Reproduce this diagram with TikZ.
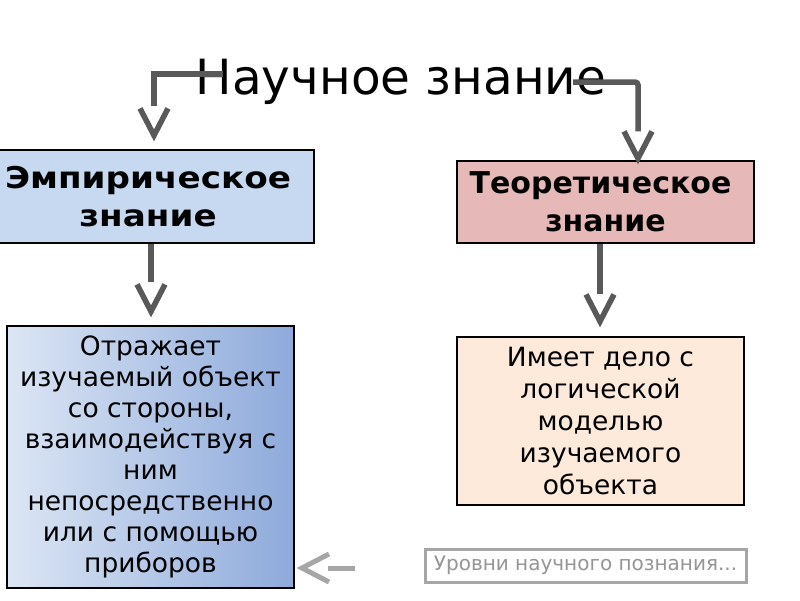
\documentclass[tikz,border=0pt]{standalone}
\usepackage{fontspec}
\usepackage{graphicx}
\setmainfont{DejaVu Sans}
\usetikzlibrary{calc}
\definecolor{cgray}{HTML}{595959}
\definecolor{lgray}{HTML}{A6A6A6}
\definecolor{tgray}{HTML}{959595}
\definecolor{empfill}{HTML}{C6D9F1}
\definecolor{theofill}{HTML}{E6B9B8}
\definecolor{peach}{HTML}{FDEADA}
\definecolor{gradlight}{HTML}{DCE6F4}
\definecolor{graddark}{HTML}{8EAADB}
\begin{document}
\begin{tikzpicture}[x=1pt,y=-1pt,
  box/.style={draw=black, line width=1.2pt, rectangle, inner sep=0pt, align=center},
  headfont/.style={font=\fontsize{30}{38}\selectfont\bfseries},
  bodyfont/.style={font=\fontsize{26.5}{31}\selectfont},
  shaft/.style={draw=cgray, line width=5.5pt},
  shaft2/.style={draw=lgray, line width=5pt},
  pics/vdown/.style={code={\draw[line width=5.5pt, line join=miter] (-14,-27)--(0,0)--(14,-27);}},
  pics/vleft/.style={code={\draw[line width=5pt, line join=miter] (27,-14)--(0,0)--(27,14);}}]
\clip (0,0) rectangle (800,600);
\fill[white] (0,0) rectangle (800,600);

\node[font=\fontsize{48.5}{56}\selectfont, inner sep=0pt, anchor=base] (t) at (401,94) {Научное знание};

\node[box, headfont, fill=empfill, minimum width=332pt, minimum height=93pt] (emp) at (148,196.5)
  {\scalebox{1.14}[1]{Эмпирическое}\\\scalebox{1.14}[1]{знание}};
\node[box, headfont, fill=theofill, minimum width=297pt, minimum height=82pt] (theo) at (605.5,202)
  {\hspace*{-10pt}Теоретическое\\знание};

\node[box, bodyfont, left color=gradlight, right color=graddark, minimum width=287pt, minimum height=262pt] (b1) at (150.5,457)
  {Отражает\\изучаемый объект\\со стороны,\\взаимодействуя с\\ним\\непосредственно\\или с помощью\\приборов};
\node[box, fill=peach, minimum width=287pt, minimum height=168pt, font=\fontsize{26.5}{32}\selectfont] (b2) at (600.5,421)
  {Имеет дело с\\логической\\моделью\\изучаемого\\объекта};

\node[draw=lgray, line width=3pt, rectangle, inner sep=0pt, minimum width=321pt, minimum height=33pt,
  font=\fontsize{20}{24}\selectfont, text=tgray] (lab) at (585.5,565.5) {Уровни научного познания...};

% connector end points (arrow apexes)
\coordinate (l1) at (223,74);
\coordinate (r1) at (573,82);
\coordinate (ea) at ($(emp.north)+(6,-14)$);
\coordinate (ta) at ($(theo.north)+(32.5,-2)$);
\coordinate (ba) at ($(b1.north)+(0.5,-14)$);
\coordinate (bb) at ($(b2.north)+(-0.5,-15)$);

\draw[shaft, shorten >=29pt] (l1) -| (ea);
\pic[cgray] at (ea) {vdown};
\draw[shaft, rounded corners=3pt, shorten >=27pt] (r1) -| (ta);
\pic[cgray] at (ta) {vdown};
\draw[shaft, line width=6.5pt, shorten >=29pt] (emp.south -| ba) -- (ba);
\pic[cgray] at (ba) {vdown};
\draw[shaft, line width=6.5pt, shorten >=27pt] (theo.south -| bb) -- (bb);
\pic[cgray] at (bb) {vdown};

\coordinate (a1) at (355,568);
\coordinate (a2) at (302,568);
\draw[shaft2, shorten >=26pt] (a1) -- (a2);
\pic[lgray] at (a2) {vleft};
\end{tikzpicture}
\end{document}
